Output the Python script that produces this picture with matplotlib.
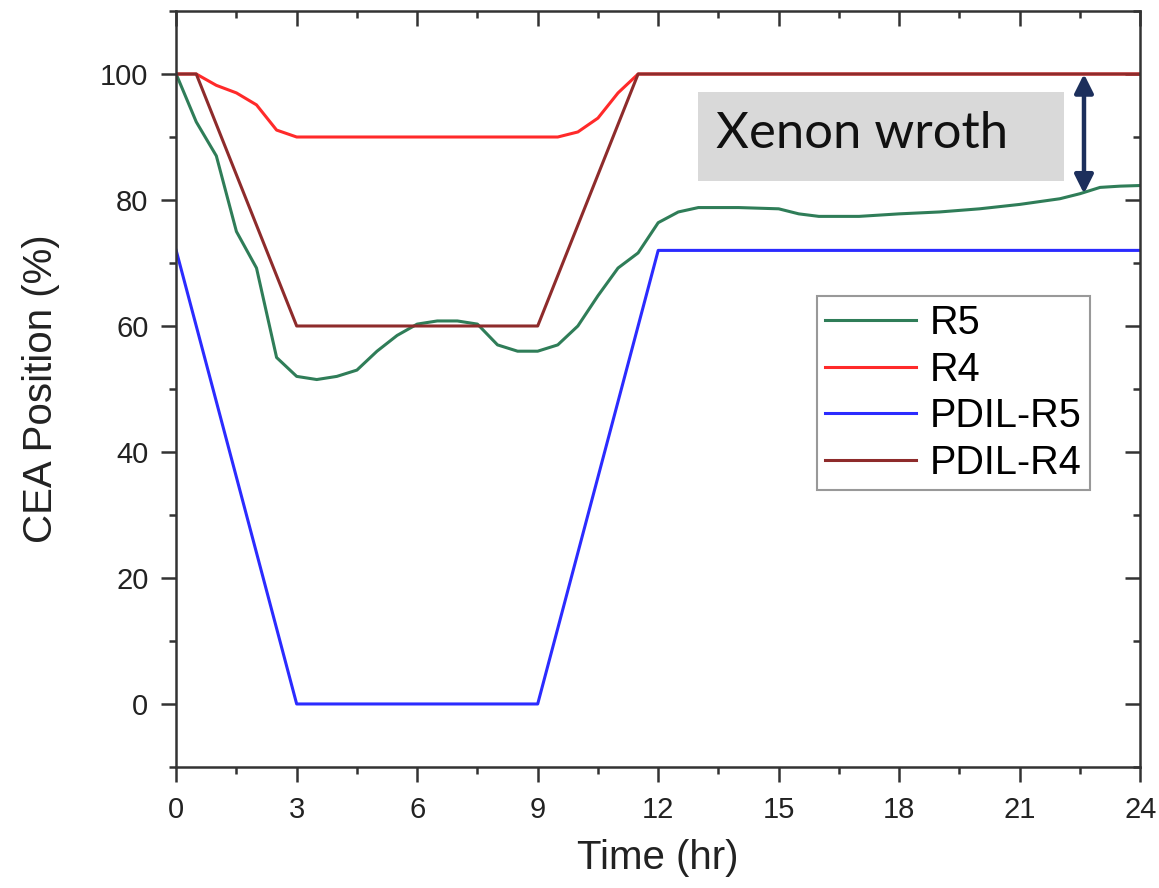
import numpy as np
import matplotlib.pyplot as plt
from matplotlib.patches import Rectangle
from matplotlib.ticker import MultipleLocator

# Control rod (CEA) positions during a load-follow day
t_r5 = [0, 0.5, 1, 1.5, 2, 2.5, 3, 3.5, 4, 4.5, 5, 5.5, 6, 6.5, 7, 7.5, 8, 8.5,
        9, 9.5, 10, 10.5, 11, 11.5, 12, 12.5, 13, 14, 15, 15.5, 16, 17, 18, 19,
        20, 21, 22, 22.5, 23, 23.5, 24]
r5 = [100, 92.4, 87, 75, 69.2, 55, 52, 51.5, 52, 53, 56, 58.5, 60.3, 60.8, 60.8,
      60.3, 57, 56, 56, 57, 60, 64.8, 69.2, 71.6, 76.4, 78.1, 78.8, 78.8, 78.6,
      77.8, 77.4, 77.4, 77.8, 78.1, 78.6, 79.3, 80.2, 81, 82, 82.2, 82.3]

t_r4 = [0, 0.5, 1, 1.5, 2, 2.5, 3, 9.5, 10, 10.5, 11, 11.5, 24]
r4 = [100, 100, 98.2, 97, 95.1, 91.1, 90, 90, 90.8, 93, 97, 100, 100]

t_pdil_r5 = [0, 3, 9, 12, 24]
pdil_r5 = [72, 0, 0, 72, 72]

t_pdil_r4 = [0, 0.5, 3, 9, 11.5, 24]
pdil_r4 = [100, 100, 60, 60, 100, 100]

# xenon worth gap marked at the end of the day
arrow_t = 22.6
arrow_top = 100
arrow_bottom = 81

plt.rcParams['font.family'] = ['Liberation Sans', 'DejaVu Sans']

fig = plt.figure(figsize=(11.59, 8.88), dpi=100)
ax = fig.add_axes([0.152, 0.1363, 0.8318, 0.8513])

ax.plot(t_r5, r5, color='#2f7d58', lw=2.2, label='R5')
ax.plot(t_r4, r4, color='#ff2a2a', lw=2.2, label='R4')
ax.plot(t_pdil_r5, pdil_r5, color='#2b2bff', lw=2.2, label='PDIL-R5')
ax.plot(t_pdil_r4, pdil_r4, color='#8e2b2b', lw=2.2, label='PDIL-R4')

ax.set_xlim(0, 24)
ax.set_ylim(-10, 110)
ax.xaxis.set_major_locator(MultipleLocator(3))
ax.xaxis.set_minor_locator(MultipleLocator(1.5))
ax.yaxis.set_major_locator(MultipleLocator(20))
ax.yaxis.set_minor_locator(MultipleLocator(10))

for s in ax.spines.values():
    s.set_linewidth(1.8)
    s.set_color('#333333')

ax.tick_params(which='both', direction='out', color='#333333', width=1.8,
               labelsize=21, labelcolor='#222222')
ax.tick_params(which='major', length=11)
ax.tick_params(which='minor', length=5)
ax.tick_params(axis='x', which='major', pad=10)
ax.tick_params(axis='y', which='major', pad=9)

# inward ticks on the top and right edges
ax_top = ax.secondary_xaxis('top')
ax_top.xaxis.set_major_locator(MultipleLocator(3))
ax_top.xaxis.set_minor_locator(MultipleLocator(1.5))
ax_top.tick_params(which='both', direction='in', color='#333333', width=1.8,
                   labeltop=False)
ax_top.tick_params(which='major', length=11)
ax_top.tick_params(which='minor', length=5)
ax_top.spines['top'].set_visible(False)

ax_right = ax.secondary_yaxis('right')
ax_right.yaxis.set_major_locator(MultipleLocator(20))
ax_right.yaxis.set_minor_locator(MultipleLocator(10))
ax_right.tick_params(which='both', direction='in', color='#333333', width=1.8,
                     labelright=False)
ax_right.tick_params(which='major', length=11)
ax_right.tick_params(which='minor', length=5)
ax_right.spines['right'].set_visible(False)

ax.set_xlabel('Time (hr)', fontsize=29, color='#222222')
ax.set_ylabel('CEA Position (%)', fontsize=29, color='#222222')
ax.xaxis.set_label_coords(0.5, -0.095)
ax.yaxis.set_label_coords(-0.12, 0.5)

leg = ax.legend(loc='upper left', bbox_to_anchor=(0.665, 0.623), fontsize=28.5,
                fancybox=False, framealpha=1, edgecolor='#999999',
                handlelength=2.3, handletextpad=0.35, labelspacing=0.22,
                borderpad=0.2, borderaxespad=0)
leg.get_frame().set_linewidth(1.5)

# annotation box
ax.add_patch(Rectangle((13.0, 83.0), 9.1, 14.1, facecolor='#d9d9d9',
                       edgecolor='none', zorder=3))
ax.text(13.45, 90.4, 'Xenon wroth', fontsize=36.5, family='Lato',
        color='#111111', va='center', ha='left', zorder=4)

ax.annotate('', xy=(arrow_t, arrow_top), xytext=(arrow_t, arrow_bottom),
            arrowprops=dict(arrowstyle='<|-|>', color='#1c2f5c', lw=3.2,
                            mutation_scale=28, shrinkA=0, shrinkB=0),
            zorder=5)

fig.savefig('out.png', dpi=100)
